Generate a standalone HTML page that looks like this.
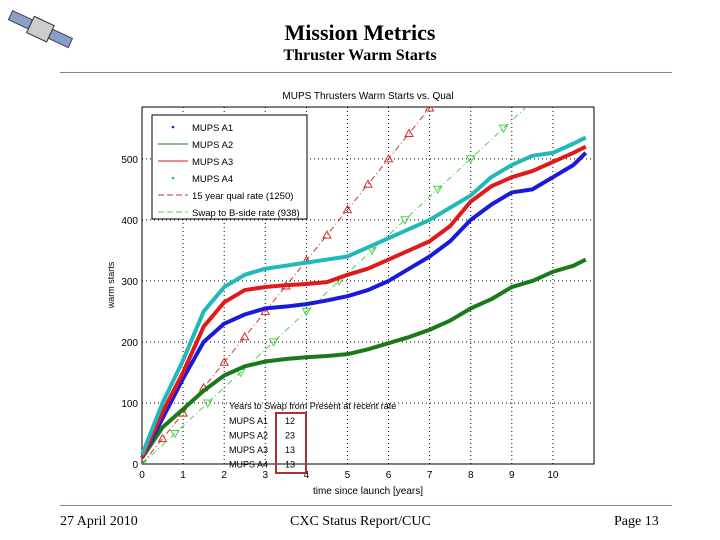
<!DOCTYPE html>
<html><head><meta charset="utf-8"><style>
body{margin:0;width:720px;height:540px;background:#fff;position:relative;overflow:hidden;font-family:"Liberation Serif",serif}
.t{position:absolute;left:0;width:720px;text-align:center;font-weight:bold;color:#000}
.f{position:absolute;top:514px;font-size:14px}
</style></head><body>
<svg style="position:absolute;left:5px;top:8px" width="70" height="45">
<g transform="rotate(25 35 22)"><rect x="2" y="16" width="22" height="10" fill="#8aa0c8" stroke="#445"/><rect x="46" y="16" width="22" height="10" fill="#8aa0c8" stroke="#445"/><rect x="24" y="12" width="22" height="18" fill="#ccc" stroke="#333"/></g></svg>
<div class="t" style="top:20px;font-size:22px">Mission Metrics</div>
<div class="t" style="top:47px;font-size:16px">Thruster Warm Starts</div>
<div style="position:absolute;left:60px;top:72px;width:612px;height:1px;background:#6a8aa8"></div>
<div style="position:absolute;left:60px;top:505px;width:612px;height:1px;background:#6a8aa8"></div>
<div class="f" style="left:60px">27 April 2010</div>
<div class="f" style="left:290px">CXC Status Report/CUC</div>
<div class="f" style="left:614px">Page 13</div>
<svg id="chart" style="position:absolute;left:0;top:0" width="720" height="540" font-family="Liberation Sans, sans-serif"></svg>
<script>
const years=[0,0.5,1,1.5,2,2.5,3,3.5,4,4.5,5,5.5,6,6.5,7,7.5,8,8.5,9,9.5,10,10.5,10.8];
const a1=[10,75,140,200,230,245,255,258,262,268,275,285,300,320,340,365,400,425,445,450,470,490,510];
const a2=[10,60,90,120,145,160,168,172,175,177,180,188,198,208,220,235,255,270,290,300,315,325,335];
const a3=[10,85,150,225,265,285,290,293,295,298,310,320,335,350,365,390,430,455,470,480,495,510,520];
const a4=[15,100,170,250,290,310,320,325,330,335,340,355,370,385,400,420,440,470,490,505,510,525,535];
const qualRate=1250/15, swapRate=938/15;
const xTicks=[0,1,2,3,4,5,6,7,8,9,10];
const yTicks=[0,100,200,300,400,500];
const tableRows=[["MUPS A1","12"],["MUPS A2","23"],["MUPS A3","13"],["MUPS A4","13"]];
const X0=142,X1=594,Y0=464,Y1=107,XMAX=11,YMAX=585;
const sx=v=>X0+(X1-X0)*v/XMAX, sy=v=>Y0-(Y0-Y1)*v/YMAX;
const svg=document.getElementById('chart');const NS='http://www.w3.org/2000/svg';
function mk(t,a,p){const e=document.createElementNS(NS,t);for(const k in a)e.setAttribute(k,a[k]);(p||svg).appendChild(e);return e;}
let e;
e=mk('rect',{x:X0,y:Y1,width:X1-X0,height:Y0-Y1,fill:'#fff',stroke:'#000','stroke-width':1});


xTicks.forEach(v=>{if(v>0){e=mk('line',{x1:sx(v),x2:sx(v),y1:Y1,y2:Y0,stroke:'#000','stroke-dasharray':'1 3'});

}
e=mk('text',{x:sx(v),y:Y0+14,'font-size':10,'text-anchor':'middle'});e.textContent=v;

});
yTicks.forEach(v=>{if(v>0){e=mk('line',{x1:X0,x2:X1,y1:sy(v),y2:sy(v),stroke:'#000','stroke-dasharray':'1 3'});

}
e=mk('text',{x:X0-4,y:sy(v)+4,'font-size':10,'text-anchor':'end'});e.textContent=v;

});
e=mk('text',{x:(X0+X1)/2,y:99,'font-size':10,'text-anchor':'middle'});e.textContent='MUPS Thrusters Warm Starts vs. Qual';


e=mk('text',{x:368,y:494,'font-size':10,'text-anchor':'middle'});e.textContent='time since launch [years]';


e=mk('text',{x:114,y:285,'font-size':9,'text-anchor':'middle',transform:'rotate(-90 114 285)'});e.textContent='warm starts';


const cp=mk('clipPath',{id:'cp'});mk('rect',{x:X0,y:Y1,width:X1-X0,height:Y0-Y1},cp);
function rateLine(rate,col,name,down){
 const g=mk('g',{'clip-path':'url(#cp)'});
 e=mk('line',{x1:sx(0),y1:sy(0),x2:sx(11),y2:sy(rate*11),stroke:col,'stroke-dasharray':'6 3 1 3'},g);
 
 
 for(let t=0;t<=11;t+=0.5*(rate>70?1:1.6)){const px=sx(t),py=sy(rate*t);
  e=mk('path',{d:down?`M${px-4},${py-3}L${px+4},${py-3}L${px},${py+4}Z`:`M${px-4},${py+3}L${px+4},${py+3}L${px},${py-4}Z`,fill:'none',stroke:col},g);
  
  }
}
rateLine(qualRate,'#d03030','qual-rate-line',false);
rateLine(swapRate,'#50d050','swap-rate-line',true);
function series(vals,col,name){
 e=mk('polyline',{points:years.map((y,i)=>sx(y)+','+sy(vals[i])).join(' '),fill:'none',stroke:col,'stroke-width':4,'stroke-linejoin':'round'});
 
 
}
series(a2,'#1a7a1a','series-mups-a2');series(a1,'#1a1adc','series-mups-a1');series(a3,'#e01a1a','series-mups-a3');series(a4,'#20b8b8','series-mups-a4');
// legend
e=mk('rect',{x:152,y:115,width:155,height:104,fill:'#fff',stroke:'#000'});


const leg=[['MUPS A1','#1a1adc','dot'],['MUPS A2','#1a7a1a','solid'],['MUPS A3','#e01a1a','solid'],['MUPS A4','#20b8b8','dot'],['15 year qual rate (1250)','#d03030','dash'],['Swap to B-side rate (938)','#50d050','dash']];
leg.forEach((l,i)=>{const y=127+i*17;
 if(l[2]==='dot')mk('circle',{cx:173,cy:y,r:1.3,fill:l[1]});
 else mk('line',{x1:158,x2:188,y1:y,y2:y,stroke:l[1],'stroke-dasharray':l[2]==='dash'?'6 3':'none'});
 e=mk('text',{x:192,y:y+4,'font-size':9.5});e.textContent=l[0];
 
 });
// table
e=mk('text',{x:229,y:409,'font-size':9});e.textContent='Years to Swap from Present at recent rate';


tableRows.forEach((r,i)=>{const y=424+i*14.5;
 e=mk('text',{x:229,y:y,'font-size':9});e.textContent=r[0];
 
 
 e=mk('text',{x:290,y:y,'font-size':9,'text-anchor':'middle'});e.textContent=r[1];
 
 });
e=mk('rect',{x:276,y:413,width:30,height:60,fill:'none',stroke:'#b03030','stroke-width':2});


</script>
</body></html>
